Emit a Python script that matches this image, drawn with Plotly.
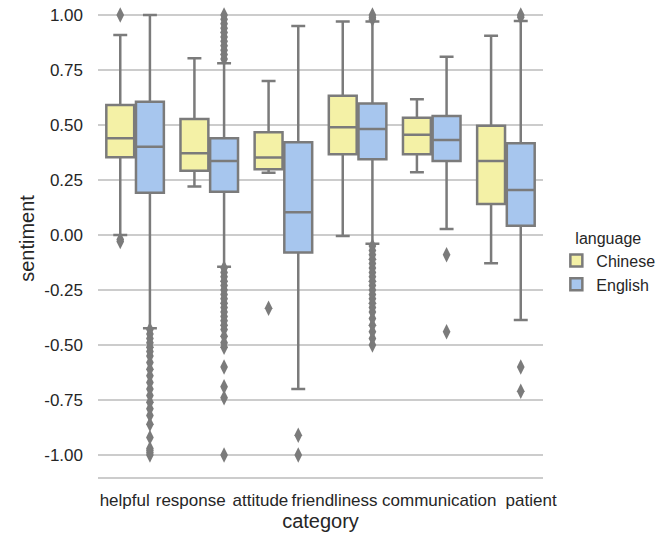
import plotly.graph_objects as go

categories = ["helpful", "response", "attitude", "friendliness", "communication", "patient"]

# y-axis ticks (labels written with a plain hyphen as in the reference)
y_ticks = [-1.0, -0.75, -0.5, -0.25, 0.0, 0.25, 0.5, 0.75, 1.0]
y_tick_labels = ["-1.00", "-0.75", "-0.50", "-0.25", "0.00", "0.25", "0.50", "0.75", "1.00"]

# Chinese box statistics
zh_q1 = [0.353, 0.292, 0.299, 0.367, 0.367, 0.141]
zh_median = [0.440, 0.371, 0.352, 0.490, 0.455, 0.336]
zh_q3 = [0.591, 0.527, 0.467, 0.633, 0.533, 0.497]
zh_lower = [0.000, 0.220, 0.283, -0.005, 0.285, -0.129]
zh_upper = [0.909, 0.803, 0.700, 0.970, 0.617, 0.906]
zh_outliers = [
    [1.0, -0.02, -0.03],
    [],
    [-0.333],
    [],
    [],
    [],
]

# English box statistics
en_q1 = [0.192, 0.197, -0.080, 0.344, 0.336, 0.042]
en_median = [0.401, 0.336, 0.103, 0.482, 0.432, 0.205]
en_q3 = [0.606, 0.440, 0.421, 0.598, 0.541, 0.417]
en_lower = [-0.424, -0.144, -0.700, -0.040, 0.027, -0.386]
en_upper = [1.000, 0.780, 0.950, 0.970, 0.810, 0.973]
en_outliers = [
    [-0.43, -0.45, -0.47, -0.49, -0.51, -0.53, -0.55, -0.58, -0.61, -0.64, -0.67,
     -0.70, -0.73, -0.76, -0.79, -0.82, -0.86, -0.92, -0.97, -0.98, -0.99, -1.0],
    [0.80, 0.82, 0.84, 0.86, 0.88, 0.90, 0.92, 0.94, 0.96, 0.98, 1.0,
     -0.15, -0.17, -0.19, -0.21, -0.23, -0.25, -0.27, -0.29, -0.31, -0.33, -0.35,
     -0.37, -0.39, -0.41, -0.43, -0.46, -0.49, -0.51, -0.60, -0.69, -0.74, -1.0],
    [-0.91, -1.0],
    [0.98, 0.99, 1.0,
     -0.05, -0.07, -0.09, -0.11, -0.13, -0.15, -0.17, -0.19, -0.21, -0.23, -0.25,
     -0.27, -0.29, -0.31, -0.33, -0.35, -0.38, -0.41, -0.44, -0.47, -0.50],
    [-0.09, -0.44],
    [0.99, 1.0, -0.60, -0.71],
]

# tick labels of the reference sit shoulder-to-shoulder rather than centred
label_offsets = [-0.14, -0.25, -0.31, -0.31, 0.10, 0.34]

LINE = "#7b7b7b"
TEXT = "#262626"
GRID = "#cccccc"


def box(name, fill, q1, med, q3, lo, hi, pts):
    return go.Box(
        name=name,
        x=categories,
        q1=q1, median=med, q3=q3,
        lowerfence=lo, upperfence=hi,
        y=pts,
        boxpoints="all", jitter=0, pointpos=0,
        fillcolor=fill,
        line=dict(color=LINE, width=2.5),
        whiskerwidth=0.5,
        marker=dict(symbol="diamond-tall", size=11, color=LINE,
                    line=dict(width=0)),
    )


fig = go.Figure()
fig.add_trace(box("Chinese", "#f4f1a6", zh_q1, zh_median, zh_q3, zh_lower, zh_upper, zh_outliers))
fig.add_trace(box("English", "#a7c6ee", en_q1, en_median, en_q3, en_lower, en_upper, en_outliers))

fig.update_layout(
    width=666, height=535,
    margin=dict(l=98, r=123, t=0, b=58),
    paper_bgcolor="white", plot_bgcolor="white",
    boxmode="group", boxgap=0.2, boxgroupgap=0.06,
    font=dict(family="Liberation Sans, Arial, sans-serif", size=17, color=TEXT),
    showlegend=True,
    legend=dict(
        title=dict(text="language", side="top center", font=dict(size=16)),
        font=dict(size=16),
        x=1.03, xanchor="left", y=0.45, yanchor="middle",
        bgcolor="rgba(0,0,0,0)", tracegroupgap=6,
    ),
)

fig.update_xaxes(
    type="category", categoryorder="array", categoryarray=categories,
    tickmode="array",
    tickvals=[i + off for i, off in enumerate(label_offsets)],
    ticktext=categories,
    tickangle=0, ticks="", showgrid=False, zeroline=False,
    showline=True, linecolor=GRID, linewidth=1.5,
    ticklabelstandoff=7,
    title=dict(text="category", standoff=2),
    automargin=False, range=[-0.5, 5.5],
)

fig.update_yaxes(
    range=[-1.1, 1.068],
    tickmode="array", tickvals=y_ticks, ticktext=y_tick_labels,
    showgrid=True, gridcolor=GRID, gridwidth=1.5,
    zeroline=False, showline=False, ticks="",
    ticklabelstandoff=14,
    title=dict(text="sentiment", standoff=4),
    automargin=False,
)

fig.write_html(
    "out.html",
    config={"displayModeBar": False},
    post_script="document.body.style.margin='0';document.body.style.padding='0';",
)
